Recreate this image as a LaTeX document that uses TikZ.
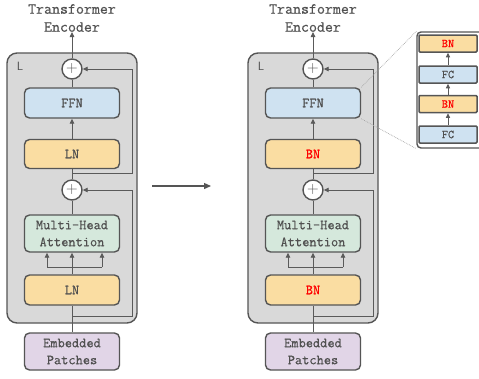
\documentclass[tikz,border=0pt]{standalone}
\usepackage{fontspec}
\newfontfamily\dmono{Latin Modern Mono}[FakeBold=0.6]
\usetikzlibrary{arrows.meta}
\definecolor{panelbg}{HTML}{D9D9D9}
\definecolor{edge}{HTML}{555555}
\definecolor{lineg}{HTML}{5A5A5A}
\definecolor{txt}{HTML}{505050}
\definecolor{fblue}{HTML}{CFE2F1}
\definecolor{forange}{HTML}{FADDA2}
\definecolor{fgreen}{HTML}{D5E8DC}
\definecolor{fpurple}{HTML}{E1D5E7}
\tikzset{
  conn/.style={draw=lineg, line width=0.9pt},
  arr/.style={conn, -{Triangle[length=5pt,width=4.5pt]}},
  blk/.style={draw=edge, line width=1.4pt, rounded corners=5pt, minimum width=95pt,
    font=\fontsize{14}{17}\selectfont\dmono, text=txt, align=center, inner sep=0pt},
  plusnode/.style={circle, draw=edge, fill=white, line width=1.4pt, minimum size=20pt, inner sep=0pt,
    font=\fontsize{16}{16}\selectfont, text=txt},
  panel/.style={draw=edge, fill=panelbg, line width=1.4pt, rounded corners=10pt},
  small/.style={draw=edge, line width=1.5pt, rounded corners=1pt, minimum width=58pt, minimum height=17pt,
    inner sep=0pt, font=\fontsize{12}{12}\selectfont\dmono, text=txt},
  title/.style={font=\fontsize{15.5}{18}\selectfont\dmono, text=txt, align=center, inner sep=0pt},
  smallarr/.style={conn, -{Triangle[length=4.5pt,width=4pt]}}
}
\newcommand\mypanel[3]{%
  \begin{scope}[shift={(#2,0)}]
    \draw[panel] (7,53) rectangle (137,323);
    \node[text=txt, font=\fontsize{12}{12}\selectfont\sffamily] (#1L) at (20,66) {L};
    \node[title] (#1title) at (72,18) {Transformer\\Encoder};
    \node[plusnode] (#1p1) at (72,69) {+};
    \node[plusnode] (#1p2) at (72,190) {+};
    \node[blk, fill=fblue, minimum height=30pt] (#1ffn) at (72,103) {FFN};
    \node[blk, fill=forange, minimum height=29pt] (#1n1) at (72,154) {#3};
    \node[blk, fill=fgreen, minimum height=37pt] (#1mha) at (72,233.5) {Multi-Head\\Attention};
    \node[blk, fill=forange, minimum height=30pt] (#1n2) at (72,290) {#3};
    \node[blk, fill=fpurple, minimum height=37pt] (#1ep) at (72,351.5) {Embedded\\Patches};
    \coordinate (#1r1a) at (72,173);
    \coordinate (#1r1b) at (132,173);
    \coordinate (#1r1c) at (132,69);
    \coordinate (#1r2a) at (72,316);
    \coordinate (#1r2b) at (132,316);
    \coordinate (#1r2c) at (132,190);
    \coordinate (#1bl) at (47,267);
    \coordinate (#1br) at (102,267);
    \coordinate (#1bm) at (72,267);
    \draw[conn] (#1ep.north) -- (#1n2.south);
    \draw[conn] (#1n2.north) -- (#1bm);
    \draw[conn] (#1bl) -- (#1br);
    \draw[arr] (#1bl) -- (#1bl |- #1mha.south);
    \draw[arr] (#1bm) -- (#1mha.south);
    \draw[arr] (#1br) -- (#1br |- #1mha.south);
    \draw[conn] (#1mha.north) -- (#1p2.south);
    \draw[conn] (#1r2a) -- (#1r2b) -- (#1r2c);
    \draw[arr] (#1r2c) -- (#1p2.east);
    \draw[conn] (#1p2.north) -- (#1n1.south);
    \draw[arr] (#1n1.north) -- (#1ffn.south);
    \draw[conn] (#1ffn.north) -- (#1p1.south);
    \draw[conn] (#1r1a) -- (#1r1b) -- (#1r1c);
    \draw[arr] (#1r1c) -- (#1p1.east);
    \draw[arr] (#1p1.north) -- (#1title.south);
  \end{scope}}
\begin{document}
\begin{tikzpicture}[x=1pt,y=-1pt]
  \useasboundingbox[fill=white] (0,0) rectangle (479,378);
  \mypanel{A}{0}{LN}
  \mypanel{B}{241}{\textcolor{red}{BN}}
  \coordinate (arrs) at (152,186);
  \coordinate (arre) at (211,186);
  \draw[draw=edge, line width=1.3pt, -{Triangle[length=7pt,width=6pt]}] (arrs) -- (arre);
  % inset
  \node[draw=edge, fill=white, line width=1.4pt, rounded corners=4pt, minimum width=68pt, minimum height=116pt, inner sep=0pt] (inset) at (451,90) {};
  \node[small, fill=forange] (i4) at (448,43.5) {\textcolor{red}{BN}};
  \node[small, fill=fblue] (i3) at (448,74.5) {FC};
  \node[small, fill=forange] (i2) at (448,104) {\textcolor{red}{BN}};
  \node[small, fill=fblue] (i1) at (448,134.5) {FC};
  \draw[smallarr] (i1.north) -- (i2.south);
  \draw[smallarr] (i2.north) -- (i3.south);
  \draw[smallarr] (i3.north) -- (i4.south);
  \draw[densely dotted, draw=gray!70, line width=0.7pt] (Bffn.north east) -- (inset.north west);
  \draw[densely dotted, draw=gray!70, line width=0.7pt] (Bffn.south east) -- (inset.south west);
\end{tikzpicture}
\end{document}
